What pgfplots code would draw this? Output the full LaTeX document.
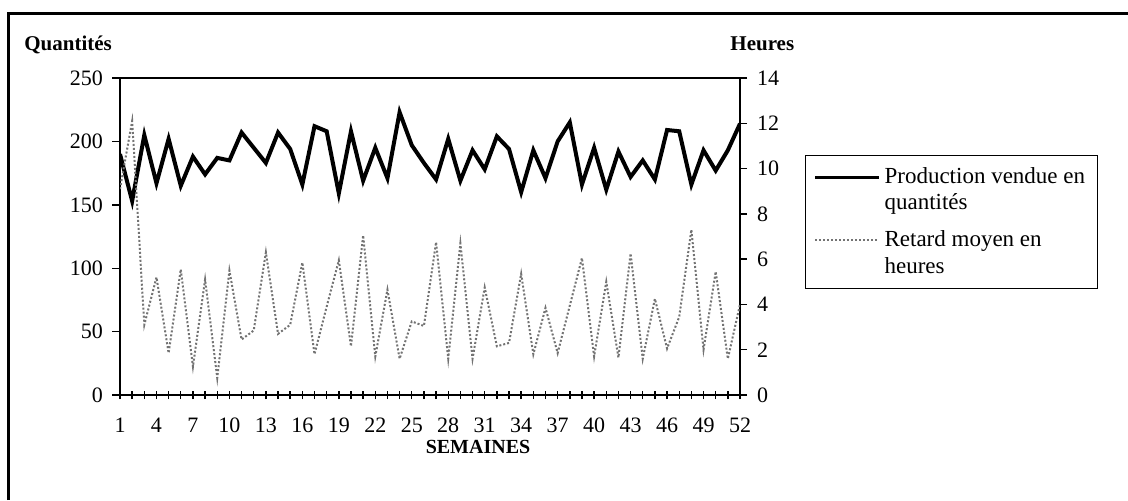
\documentclass[border=0pt]{standalone}
\usepackage{fontspec}
\setmainfont{Liberation Serif}
\usepackage{pgfplots}
\pgfplotsset{compat=1.18}
\pgfplotstableread{
w q
1 190
2 153
3 205
4 167
5 202
6 165
7 188
8 174
9 187
10 185
11 207
12 195
13 183
14 207
15 194
16 166
17 212
18 208
19 159
20 208
21 169
22 195
23 171
24 223
25 197
26 183
27 170
28 202
29 169
30 193
31 178
32 204
33 194
34 160
35 193
36 171
37 200
38 215
39 166
40 195
41 162
42 192
43 172
44 185
45 170
46 209
47 208
48 166
49 193
50 177
51 193
52 214
}\prod
\pgfplotstableread{
w h
1 9.1
2 12.1
3 3.1
4 5.2
5 1.85
6 5.55
7 1.25
8 5.1
9 0.75
10 5.5
11 2.45
12 2.85
13 6.3
14 2.7
15 3.1
16 5.85
17 1.8
18 3.9
19 5.95
20 2.15
21 7.05
22 1.7
23 4.65
24 1.6
25 3.25
26 3.05
27 6.75
28 1.6
29 6.7
30 1.6
31 4.75
32 2.15
33 2.3
34 5.35
35 1.8
36 3.85
37 1.85
38 3.95
39 6.05
40 1.7
41 5.0
42 1.65
43 6.25
44 1.6
45 4.25
46 2.05
47 3.45
48 7.3
49 2.0
50 5.45
51 1.6
52 4.0
}\retard
\begin{document}
\begin{tikzpicture}
\useasboundingbox (-60pt,-52.5pt) rectangle (504pt,197.5pt);
\draw[line width=1.5pt] (-55.5pt,-52.5pt) -- (-55.5pt,191pt);
\draw[line width=1.5pt] (-56.25pt,191pt) -- (505pt,191pt);
\node[anchor=base west, inner sep=0pt, font=\bfseries\fontsize{10.5}{12}\selectfont] at (-48pt,172.5pt) {Quantités};
\node[anchor=base west, inner sep=0pt, font=\bfseries\fontsize{10.5}{12}\selectfont] at (305pt,172.5pt) {Heures};
\node[anchor=base, font=\bfseries\fontsize{10}{12}\selectfont] at (179pt,-29pt) {SEMAINES};
\begin{axis}[
  at={(0pt,0pt)}, anchor=south west,
  scale only axis, width=310pt, height=158.5pt,
  xmin=1, xmax=52, ymin=0, ymax=250,
  xtick={1,4,...,52}, minor xtick={1,...,52},
  ytick={0,50,...,250},
  xtick pos=bottom, ytick pos=left,
  tick align=center, major tick length=4pt, minor tick length=4pt,
  every tick/.style={black, line width=0.7pt},
  y tick style={xshift=-2pt},
  axis line style={line width=1.3pt},
  ticklabel style={font=\fontsize{11}{13}\selectfont},
  /pgf/number format/assume math mode=true,
  xticklabel style={yshift=-6pt},
  yticklabel style={xshift=-3pt},
]
\addplot[black, line width=2pt] table[x=w, y=q] {\prod};
\end{axis}
\begin{axis}[
  at={(0pt,0pt)}, anchor=south west,
  scale only axis, width=310pt, height=158.5pt,
  xmin=1, xmax=52, ymin=0, ymax=14,
  ytick={0,2,...,14},
  axis y line*=right, axis x line=none,
  tick align=outside, major tick length=3.5pt,
  every tick/.style={black, line width=0.7pt},
  axis line style={line width=1.3pt},
  ticklabel style={font=\fontsize{11}{13}\selectfont},
  /pgf/number format/assume math mode=true,
  yticklabel style={xshift=1.5pt},
  legend cell align=left,
  legend style={at={(1.1048,0.757)}, anchor=north west, draw=black, line width=0.6pt,
    font=\fontsize{11.5}{13.2}\selectfont, nodes={align=left}, inner sep=4pt, row sep=5pt},
  legend image code/.code={\draw[#1] (0pt,6.6pt) -- (32pt,6.6pt);},
]
\addlegendimage{black, line width=1.5pt}
\addlegendentry{Production vendue en\hspace{8pt}\\quantités}
\addplot[black!55, densely dotted, line width=1pt] table[x=w, y=h] {\retard};
\addlegendentry{Retard moyen en\\heures}
\end{axis}
\end{tikzpicture}
\end{document}
